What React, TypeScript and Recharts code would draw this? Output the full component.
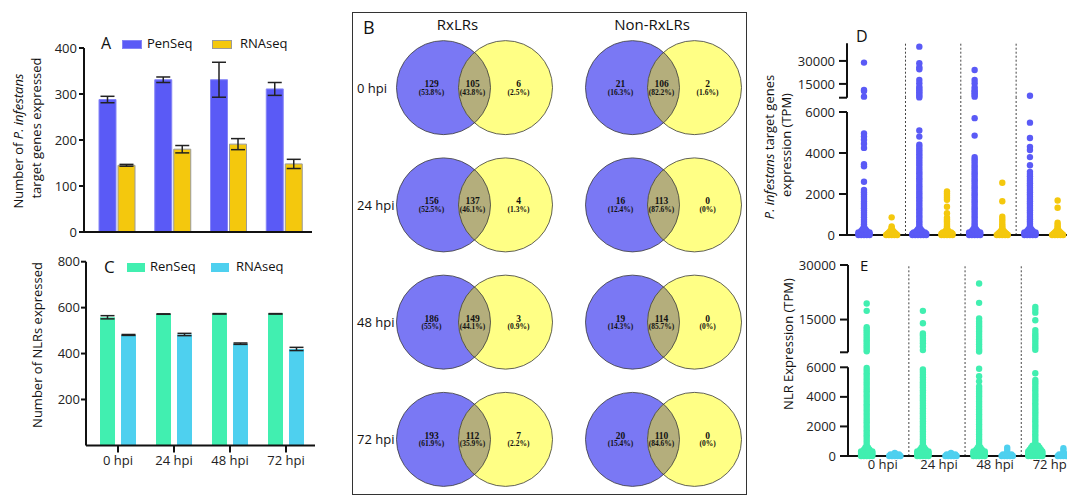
import React from 'react'
import {
  BarChart,
  Bar,
  ErrorBar,
  XAxis,
  YAxis,
  ScatterChart,
  Scatter,
  ReferenceLine,
} from 'recharts'

const hpi = ['0 hpi', '24 hpi', '48 hpi', '72 hpi']

// A: number of P. infestans target genes expressed
const penSeq = [288, 331, 331, 311]
const penSeqErr = [7, 6, 38, 14]
const rnaSeqA = [145, 180, 191, 148]
const rnaSeqAErr = [2, 8, 12, 10]

// C: number of NLRs expressed
const renSeq = [558, 572, 573, 573]
const renSeqErr = [7, 1, 1, 1]
const rnaSeqC = [481, 483, 443, 420]
const rnaSeqCErr = [2, 5, 3, 7]

// B: venn counts (PenSeq only / shared / RNAseq only)
const vennSets = ['RxLRs', 'Non-RxLRs']
const rxlrPenOnly = [129, 156, 186, 193]
const rxlrShared = [105, 137, 149, 112]
const rxlrRnaOnly = [6, 4, 3, 7]
const nonPenOnly = [21, 16, 19, 20]
const nonShared = [106, 113, 114, 110]
const nonRnaOnly = [2, 0, 0, 0]

// D: TPM of target genes, one list per time point (points above the swarm)
const penTpm = [
  [28900, 11000, 10300, 6700, 4950, 4800, 4650, 4450, 4250, 3450, 3350, 2600, 2200, 2090, 1980, 1870, 1760, 1640, 1530, 1420, 1310, 1190, 1080, 970, 860, 740, 630, 520, 430, 350],
  [39300, 28500, 25900, 24600, 17600, 15500, 13200, 12000, 10800, 9600, 8400, 7200, 6200, 5100, 4800, 4400, 4290, 4170, 4060, 3940, 3820, 3710, 3590, 3470, 3360, 3240, 3120, 3010, 2890, 2770, 2660, 2540, 2420, 2310, 2190, 2070, 1960, 1840, 1720, 1610, 1490, 1370, 1260, 1140, 1020, 910, 790, 670, 560, 450, 360],
  [24100, 17600, 15500, 12800, 11100, 10000, 8900, 7800, 6700, 5700, 4850, 3800, 3690, 3580, 3460, 3350, 3240, 3120, 3010, 2900, 2780, 2670, 2560, 2440, 2330, 2220, 2100, 1990, 1880, 1760, 1650, 1540, 1420, 1310, 1200, 1080, 970, 860, 740, 630, 520, 420, 340],
  [7300, 5480, 4730, 4300, 4150, 3800, 3400, 3080, 2970, 2860, 2750, 2640, 2530, 2420, 2310, 2200, 2090, 1980, 1870, 1760, 1650, 1540, 1430, 1320, 1210, 1100, 990, 880, 770, 660, 550, 450, 360],
]
const rnaTpmD = [
  [860, 420, 350],
  [2120, 2020, 1920, 1820, 1720, 1380, 1060, 850, 760, 670, 580, 490, 410, 340],
  [2550, 1650, 890, 770, 650, 530, 430, 350],
  [1680, 1330, 600, 500, 410, 340],
]
// swarm near zero: how many points sit at each low TPM level
const dLevels = [0, 60, 120, 200, 280]
const penSwarm = [[5, 5, 5, 3, 2], [6, 6, 5, 3, 2], [5, 5, 5, 3, 2], [5, 5, 5, 3, 2]]
const rnaSwarmD = [[5, 4, 3, 2, 1], [5, 5, 4, 2, 1], [5, 4, 3, 2, 1], [5, 4, 3, 2, 1]]

// E: NLR expression
const renTpm = [
  [19400, 17400, 12900, 12300, 11700, 11100, 10500, 9900, 9300, 8700, 8100, 7500, 6900, 6300, 5950, 5780, 5600, 5430, 5250, 5080, 4900, 4730, 4550, 4380, 4200, 4030, 3850, 3680, 3500, 3330, 3150, 2980, 2800, 2630, 2450, 2280, 2100, 1930, 1750, 1580, 1400, 1230, 1050, 880, 720, 580],
  [17400, 14000, 11200, 10600, 9900, 9200, 8500, 7600, 6600, 5850, 5680, 5500, 5330, 5150, 4980, 4800, 4630, 4450, 4280, 4100, 3930, 3750, 3580, 3400, 3230, 3050, 2880, 2700, 2530, 2350, 2180, 2000, 1830, 1650, 1480, 1300, 1130, 950, 790, 640],
  [24900, 19600, 15300, 14500, 13800, 13100, 12400, 11700, 11000, 10300, 9600, 8900, 8200, 7500, 6800, 6200, 5900, 5400, 5050, 4700, 4530, 4360, 4190, 4020, 3850, 3680, 3510, 3340, 3170, 3000, 2830, 2660, 2490, 2320, 2150, 1980, 1810, 1640, 1470, 1300, 1130, 960, 800, 650],
  [18500, 17800, 16900, 14800, 12100, 11300, 10700, 10100, 9500, 8800, 8100, 7400, 6700, 5600, 5140, 4970, 4800, 4620, 4450, 4270, 4100, 3920, 3750, 3570, 3400, 3220, 3050, 2870, 2700, 2520, 2350, 2170, 2000, 1820, 1650, 1470, 1300, 1120, 950, 820],
]
const rnaTpmE = [[], [], [560, 400], [520, 380]]
const eLevels = [0, 100, 200, 300, 420, 560, 700]
const renSwarm = [[5, 5, 5, 5, 3, 2, 0], [5, 5, 5, 5, 3, 2, 0], [5, 5, 5, 5, 3, 2, 0], [6, 6, 6, 6, 5, 4, 3]]
const rnaSwarmE = [[5, 4, 1, 0, 0, 0, 0], [5, 4, 1, 0, 0, 0, 0], [5, 4, 1, 0, 0, 0, 0], [5, 4, 1, 0, 0, 0, 0]]

const BLUE = '#5a5af6'
const YELLOW = '#f4c80d'
const GREEN = '#41efb0'
const CYAN = '#4ed0ef'
const V_BLUE = '#7a78f4'
const V_YELLOW = '#ffff85'
const V_LENS = '#b4ae7c'

const axisStyle = { stroke: '#111', strokeWidth: 2 }
const tickStyle = { fill: '#222', fontSize: 13 }
const dividers = [2.5, 4.5, 6.5]

const dataA = hpi.map((h, i) => ({ hpi: h, pen: penSeq[i], penErr: penSeqErr[i], rna: rnaSeqA[i], rnaErr: rnaSeqAErr[i] }))
const dataC = hpi.map((h, i) => ({ hpi: h, ren: renSeq[i], renErr: renSeqErr[i], rna: rnaSeqC[i], rnaErr: rnaSeqCErr[i] }))

const vennRows = [
  [rxlrPenOnly, rxlrShared, rxlrRnaOnly],
  [nonPenOnly, nonShared, nonRnaOnly],
]
const vennData = vennRows.flatMap(([a, ab, b], col) =>
  hpi.map((_, row) => ({ col, row, a: a[row], ab: ab[row], b: b[row] })),
)

function pct(n: number, total: number) {
  const s = ((n / total) * 100).toFixed(1)
  return (s.endsWith('.0') ? s.slice(0, -2) : s) + '%'
}

// slot 0 = first series of a time point, slot 1 = second
function stripPoints(values: number[][], swarms: number[][], levels: number[], slot: number, upper: boolean) {
  const pts: { x: number; y: number }[] = []
  values.forEach((vals, g) => {
    const x = g * 2 + slot + 1
    vals.forEach((v) => {
      if (upper ? v > 6000 : v <= 6000) pts.push({ x, y: v })
    })
    if (!upper) {
      swarms[g].forEach((n, j) => {
        for (let k = 0; k < n; k++) pts.push({ x: x + (k - (n - 1) / 2) * 0.1, y: levels[j] })
      })
    }
  })
  return pts
}

const dot = (fill: string) => (p: any) => <circle cx={p.cx} cy={p.cy} r={3.2} fill={fill} />

function VennShape(props: any) {
  const { cx, cy, payload } = props
  const id = `venn-clip-${payload.col}-${payload.row}`
  const d = 31
  const r = 47
  const total = payload.a + payload.ab + payload.b
  const parts: [number, number][] = [
    [payload.a, -43],
    [payload.ab, -2],
    [payload.b, 44],
  ]
  return (
    <g>
      <defs>
        <clipPath id={id}>
          <circle cx={cx - d} cy={cy} r={r} />
        </clipPath>
      </defs>
      <circle cx={cx - d} cy={cy} r={r} fill={V_BLUE} />
      <circle cx={cx + d} cy={cy} r={r} fill={V_YELLOW} />
      <circle cx={cx + d} cy={cy} r={r} fill={V_LENS} clipPath={`url(#${id})`} />
      <circle cx={cx - d} cy={cy} r={r} fill="none" stroke="#3a3a3a" strokeWidth={0.8} />
      <circle cx={cx + d} cy={cy} r={r} fill="none" stroke="#3a3a3a" strokeWidth={0.8} />
      {parts.map(([n, dx]) => (
        <g key={dx} fontFamily="'Liberation Serif', serif" fontWeight={700} fill="#111" textAnchor="middle">
          <text x={cx + dx} y={cy - 0.5} fontSize={9.5}>{n}</text>
          <text x={cx + dx} y={cy + 7} fontSize={7.5}>({pct(n, total)})</text>
        </g>
      ))}
    </g>
  )
}

function RowTick(props: any) {
  const { y, payload } = props
  return (
    <text x={5} y={y} dy={5} fontSize={13} fill="#111">
      {hpi[payload.value]}
    </text>
  )
}

function HpiTick(props: any) {
  const { x, y, index } = props
  return (
    <text x={x + 2} y={y} dy={9.5} textAnchor="middle" fontSize={13} fill="#222">
      {hpi[index]}
    </text>
  )
}

function Txt({ x, cy, size = 13, children, style }: any) {
  return (
    <div style={{ position: 'absolute', left: x, top: cy - size * 0.55, fontSize: size, lineHeight: 1, whiteSpace: 'nowrap', ...style }}>
      {children}
    </div>
  )
}

function VText({ cx, cy, size = 13, children }: any) {
  return (
    <div
      style={{
        position: 'absolute',
        left: cx,
        top: cy,
        fontSize: size,
        lineHeight: 1.2,
        whiteSpace: 'nowrap',
        transform: 'translate(-50%, -50%) rotate(-90deg)',
      }}
    >
      {children}
    </div>
  )
}

function Swatch({ x, y, w, fill, border }: any) {
  return <div style={{ position: 'absolute', left: x, top: y, width: w, height: 9, background: fill, border: `1px solid ${border}`, boxSizing: 'border-box' }} />
}

function Abs({ x, y, children }: any) {
  return <div style={{ position: 'absolute', left: x, top: y }}>{children}</div>
}

export default function App() {
  const dPenUp = stripPoints(penTpm, penSwarm, dLevels, 0, true)
  const dRnaUp = stripPoints(rnaTpmD, rnaSwarmD, dLevels, 1, true)
  const dPenLow = stripPoints(penTpm, penSwarm, dLevels, 0, false)
  const dRnaLow = stripPoints(rnaTpmD, rnaSwarmD, dLevels, 1, false)
  const eRenUp = stripPoints(renTpm, renSwarm, eLevels, 0, true)
  const eRnaUp = stripPoints(rnaTpmE, rnaSwarmE, eLevels, 1, true)
  const eRenLow = stripPoints(renTpm, renSwarm, eLevels, 0, false)
  const eRnaLow = stripPoints(rnaTpmE, rnaSwarmE, eLevels, 1, false)

  return (
    <div
      style={{
        position: 'fixed',
        left: 0,
        top: 0,
        width: 1067,
        height: 497,
        overflow: 'hidden',
        background: '#fff',
        color: '#111',
        fontFamily: '"Open Sans", sans-serif',
      }}
    >
      {/* A */}
      <Abs x={0} y={0}>
        <BarChart width={320} height={250} data={dataA} margin={{ top: 48, right: 8, bottom: 0, left: 0 }} barGap={2} barSize={17}>
          <XAxis dataKey="hpi" height={18} tick={false} tickSize={6} axisLine={axisStyle} tickLine={axisStyle} padding={{ left: 5, right: 0 }} />
          <YAxis domain={[0, 400]} ticks={[0, 100, 200, 300, 400]} interval={0} width={84} tickSize={5} tickMargin={2} axisLine={axisStyle} tickLine={axisStyle} tick={tickStyle} />
          <Bar dataKey="pen" fill={BLUE} stroke="#8584f6" isAnimationActive={false}>
            <ErrorBar dataKey="penErr" width={7} stroke="#222" strokeWidth={1.5} isAnimationActive={false} />
          </Bar>
          <Bar dataKey="rna" fill={YELLOW} stroke="#9a9a9a" isAnimationActive={false}>
            <ErrorBar dataKey="rnaErr" width={7} stroke="#222" strokeWidth={1.5} isAnimationActive={false} />
          </Bar>
        </BarChart>
      </Abs>
      <Txt x={101} cy={44} size={16}>A</Txt>
      <Swatch x={122} y={40} w={20} fill={BLUE} border="#8584f6" />
      <Txt x={147} cy={44}>PenSeq</Txt>
      <Swatch x={212} y={40} w={20} fill={YELLOW} border="#9a9a9a" />
      <Txt x={240} cy={44}>RNAseq</Txt>
      <VText cx={19} cy={141}>
        Number of <i>P. infestans</i>
      </VText>
      <VText cx={37} cy={128}>target genes expressed</VText>

      {/* C */}
      <Abs x={0} y={240}>
        <BarChart width={323} height={236} data={dataC} margin={{ top: 21.7, right: 8, bottom: 0, left: 0 }} barGap={6} barSize={15}>
          <XAxis dataKey="hpi" height={30.6} tickSize={7} tickMargin={3} axisLine={axisStyle} tickLine={axisStyle} tick={tickStyle} interval={0} padding={{ left: 4, right: 1 }} />
          <YAxis domain={[0, 800]} ticks={[200, 400, 600, 800]} interval={0} width={86} tickSize={5} tickMargin={1} axisLine={axisStyle} tickLine={axisStyle} tick={tickStyle} />
          <Bar dataKey="ren" fill={GREEN} isAnimationActive={false}>
            <ErrorBar dataKey="renErr" width={7} stroke="#222" strokeWidth={1.5} isAnimationActive={false} />
          </Bar>
          <Bar dataKey="rna" fill={CYAN} isAnimationActive={false}>
            <ErrorBar dataKey="rnaErr" width={7} stroke="#222" strokeWidth={1.5} isAnimationActive={false} />
          </Bar>
        </BarChart>
      </Abs>
      <Txt x={104} cy={267.5} size={17}>C</Txt>
      <Swatch x={127} y={263} w={18} fill={GREEN} border={GREEN} />
      <Txt x={150} cy={267.5}>RenSeq</Txt>
      <Swatch x={211} y={263} w={18} fill={CYAN} border={CYAN} />
      <Txt x={236} cy={267.5}>RNAseq</Txt>
      <VText cx={38} cy={345}>Number of NLRs expressed</VText>

      {/* B */}
      <div style={{ position: 'absolute', left: 352, top: 12, width: 395, height: 483, border: '1.5px solid #333', boxSizing: 'border-box' }} />
      <Abs x={352} y={12}>
        <ScatterChart width={406} height={486} margin={{ top: 17, right: 0, bottom: 0, left: 0 }}>
          <XAxis type="number" dataKey="col" domain={[-0.5, 1.5]} hide height={0} />
          <YAxis type="number" dataKey="row" domain={[-0.5, 3.5]} reversed width={28} ticks={[0, 1, 2, 3]} interval={0} axisLine={false} tickLine={false} tick={<RowTick />} />
          <Scatter data={vennData} shape={VennShape} isAnimationActive={false} />
        </ScatterChart>
      </Abs>
      <Txt x={363} cy={28} size={18}>B</Txt>
      <Txt x={457.5} cy={25} size={15} style={{ transform: 'translateX(-50%)' }}>{vennSets[0]}</Txt>
      <Txt x={652} cy={25} size={15} style={{ transform: 'translateX(-50%)' }}>{vennSets[1]}</Txt>

      {/* D lower */}
      <Abs x={787} y={30}>
        <ScatterChart width={300} height={215} margin={{ top: 82, right: 0, bottom: 0, left: 0 }}>
          <XAxis type="number" dataKey="x" domain={[0.3854, 9.062]} height={10} tick={false} tickLine={false} axisLine={axisStyle} />
          <YAxis type="number" dataKey="y" domain={[0, 6000]} ticks={[0, 2000, 4000, 6000]} interval={0} width={60} tickSize={8} tickMargin={4} axisLine={axisStyle} tickLine={axisStyle} tick={tickStyle} />
          {dividers.map((x) => (
            <ReferenceLine key={x} segment={[{ x, y: 0 }, { x, y: 6700 }]} stroke="#444" strokeDasharray="2 2" ifOverflow="visible" />
          ))}
          <Scatter data={dPenLow} shape={dot(BLUE)} isAnimationActive={false} />
          <Scatter data={dRnaLow} shape={dot(YELLOW)} isAnimationActive={false} />
        </ScatterChart>
      </Abs>
      {/* D upper */}
      <Abs x={787} y={35}>
        <ScatterChart width={300} height={70} margin={{ top: 8.3, right: 0, bottom: 7.3, left: 0 }}>
          <XAxis type="number" dataKey="x" domain={[0.3854, 9.062]} hide height={0} />
          <YAxis type="number" dataKey="y" domain={[6000, 41500]} ticks={[6000, 15000, 30000]} interval={0} width={60} tickSize={8} tickMargin={4} axisLine={axisStyle} tickLine={axisStyle} tick={tickStyle} tickFormatter={(v: number) => (v === 6000 ? '' : String(v))} />
          {dividers.map((x) => (
            <ReferenceLine key={x} x={x} stroke="#444" strokeDasharray="2 2" />
          ))}
          <Scatter data={dPenUp} shape={dot(BLUE)} isAnimationActive={false} />
          <Scatter data={dRnaUp} shape={dot(YELLOW)} isAnimationActive={false} />
        </ScatterChart>
      </Abs>
      <Txt x={856} cy={37} size={16}>D</Txt>
      <VText cx={770} cy={147}>
        <i>P. infestans</i> target genes
      </VText>
      <VText cx={787} cy={145}>expression (TPM)</VText>

      {/* E lower */}
      <Abs x={788} y={340}>
        <ScatterChart width={300} height={146} margin={{ top: 27.3, right: 0, bottom: 0, left: 0 }}>
          <XAxis type="number" dataKey="x" domain={[0.3345, 8.875]} height={30} ticks={[1.5, 3.5, 5.5, 7.5]} interval={0} tickSize={0} tickMargin={3} tickLine={false} axisLine={axisStyle} tick={<HpiTick />} />
          <YAxis type="number" dataKey="y" domain={[0, 6000]} ticks={[0, 2000, 4000, 6000]} interval={0} width={60} tickSize={8} tickMargin={4} axisLine={axisStyle} tickLine={axisStyle} tick={tickStyle} />
          {dividers.map((x) => (
            <ReferenceLine key={x} segment={[{ x, y: 0 }, { x, y: 7000 }]} stroke="#444" strokeDasharray="2 2" ifOverflow="visible" />
          ))}
          <Scatter data={eRenLow} shape={dot(GREEN)} isAnimationActive={false} />
          <Scatter data={eRnaLow} shape={dot(CYAN)} isAnimationActive={false} />
        </ScatterChart>
      </Abs>
      {/* E upper */}
      <Abs x={788} y={257}>
        <ScatterChart width={300} height={100} margin={{ top: 8, right: 0, bottom: 4.7, left: 0 }}>
          <XAxis type="number" dataKey="x" domain={[0.3345, 8.875]} hide height={0} />
          <YAxis type="number" dataKey="y" domain={[6000, 30000]} ticks={[6000, 15000, 30000]} interval={0} width={60} tickSize={8} tickMargin={4} axisLine={axisStyle} tickLine={axisStyle} tick={tickStyle} tickFormatter={(v: number) => (v === 6000 ? '' : String(v))} />
          {dividers.map((x) => (
            <ReferenceLine key={x} x={x} stroke="#444" strokeDasharray="2 2" />
          ))}
          <Scatter data={eRenUp} shape={dot(GREEN)} isAnimationActive={false} />
          <Scatter data={eRnaUp} shape={dot(CYAN)} isAnimationActive={false} />
        </ScatterChart>
      </Abs>
      <Txt x={860} cy={266.5} size={15}>E</Txt>
      <VText cx={789} cy={344}>NLR Expression (TPM)</VText>
    </div>
  )
}
